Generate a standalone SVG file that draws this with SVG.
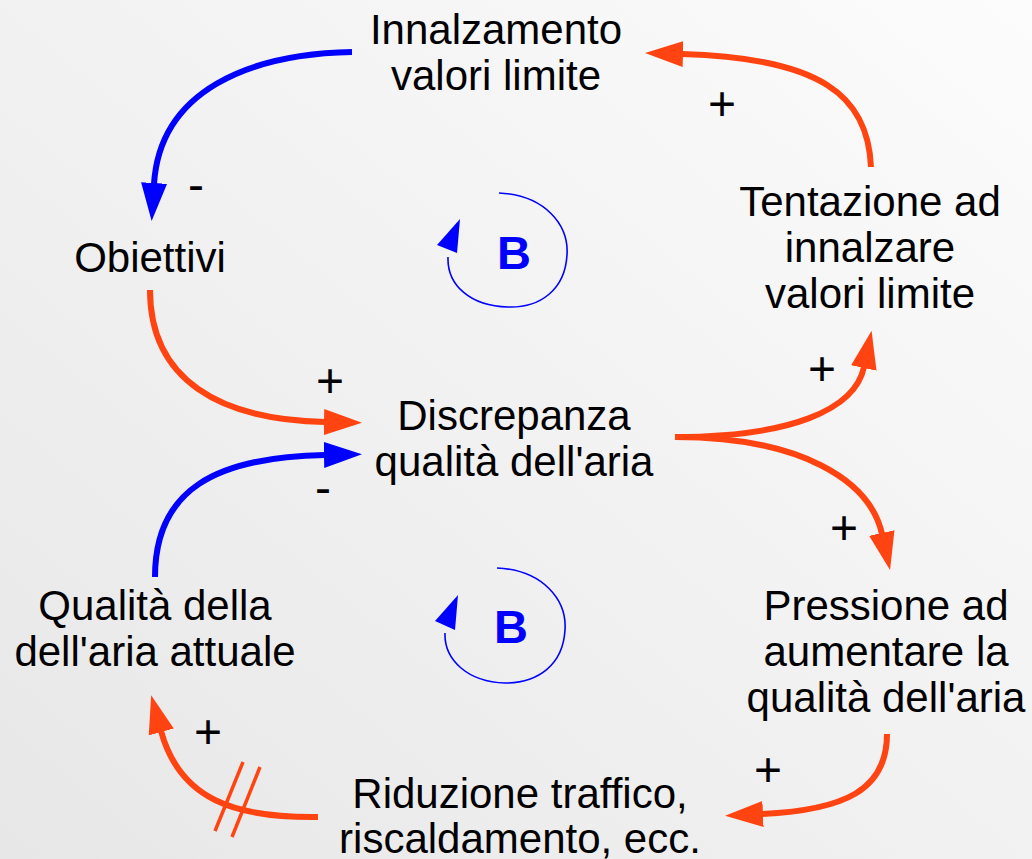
<svg xmlns="http://www.w3.org/2000/svg" width="1032" height="859" viewBox="0 0 1032 859">
<defs>
<linearGradient id="bg" x1="1" y1="0" x2="0" y2="1">
<stop offset="0" stop-color="#fcfcfc"/>
<stop offset="1" stop-color="#e7e7e7"/>
</linearGradient>
<marker id="ao" viewBox="0 0 38 26" refX="1" refY="13" markerWidth="38" markerHeight="26" markerUnits="userSpaceOnUse" orient="auto">
<path d="M0,0 L38,13 L0,26 Z" fill="#ff4412"/>
</marker>
<marker id="ab" viewBox="0 0 38 26" refX="1" refY="13" markerWidth="38" markerHeight="26" markerUnits="userSpaceOnUse" orient="auto">
<path d="M0,0 L38,13 L0,26 Z" fill="#0000ff"/>
</marker>
<style>
.t{font-family:"Liberation Sans",Arial,sans-serif;font-size:42px;fill:#000;text-anchor:middle}
.s{font-family:"Liberation Sans",Arial,sans-serif;font-size:48px;fill:#000;text-anchor:middle}
.b{font-family:"Liberation Sans",Arial,sans-serif;font-size:47px;font-weight:bold;fill:#0000ff;text-anchor:middle}
.o{fill:none;stroke:#ff4412;stroke-width:6}
.bl{fill:none;stroke:#0000ff;stroke-width:6}
.loop{fill:none;stroke:#0000ff;stroke-width:1.6}
.delay{stroke:#ff4412;stroke-width:3.5}
</style>
</defs>
<rect width="1032" height="859" fill="url(#bg)"/>

<g id="connectors">
<path class="bl" d="M352,52 C250,54 160,90 154,184" marker-end="url(#ab)"/>
<path class="o" d="M871,167 C868,95 820,58 682,54" marker-end="url(#ao)"/>
<path class="o" d="M150,290 C150,380 220,420 325,422" marker-end="url(#ao)"/>
<path class="bl" d="M155,577 C155,490 215,457 325,455" marker-end="url(#ab)"/>
<path class="o" d="M675,437 C790,437 855,410 864,367" marker-end="url(#ao)"/>
<path class="o" d="M675,437 C800,437 870,480 882,534" marker-end="url(#ao)"/>
<path class="o" d="M887,734 C887,790 845,810 762,814" marker-end="url(#ao)"/>
<path class="o" d="M318,817 C235,818 180,800 161,731" marker-end="url(#ao)"/>
<line class="delay" x1="243" y1="762" x2="215" y2="831"/>
<line class="delay" x1="260" y1="767" x2="232" y2="837"/>
<text class="s" x="722" y="120">+</text>
<text class="s" x="196" y="201">-</text>
<text class="s" x="330" y="397">+</text>
<text class="s" x="323" y="504">-</text>
<text class="s" x="822" y="385">+</text>
<text class="s" x="844" y="544">+</text>
<text class="s" x="208" y="748">+</text>
<text class="s" x="768" y="786">+</text>
</g>

<g id="loop-top">
<path class="loop" d="M499,193 C545,195 569,225 567,255 C565,290 540,308 508,307 C470,306 447,285 448,257"/>
<path d="M460,219 L437,245 L457,253 Z" fill="#0000ff"/>
<text class="b" x="514" y="269">B</text>
</g>
<g id="loop-bottom">
<path class="loop" d="M497,568 C543,570 567,600 565,630 C563,665 538,683 505,683 C468,682 444,660 445,633"/>
<path d="M458,595 L435,621 L455,630 Z" fill="#0000ff"/>
<text class="b" x="511" y="643">B</text>
</g>

<g id="n-innalzamento">
<text class="t" x="496" y="44">Innalzamento</text>
<text class="t" x="496" y="90">valori limite</text>
</g>
<g id="n-obiettivi">
<text class="t" x="150" y="272">Obiettivi</text>
</g>
<g id="n-tentazione">
<text class="t" x="870" y="216">Tentazione ad</text>
<text class="t" x="870" y="262">innalzare</text>
<text class="t" x="870" y="308">valori limite</text>
</g>
<g id="n-discrepanza">
<text class="t" x="514" y="430">Discrepanza</text>
<text class="t" x="514" y="476">qualità dell'aria</text>
</g>
<g id="n-qualita">
<text class="t" x="155" y="620">Qualità della</text>
<text class="t" x="155" y="666">dell'aria attuale</text>
</g>
<g id="n-pressione">
<text class="t" x="886" y="620">Pressione ad</text>
<text class="t" x="886" y="666">aumentare la</text>
<text class="t" x="886" y="712">qualità dell'aria</text>
</g>
<g id="n-riduzione">
<text class="t" x="520" y="808">Riduzione traffico,</text>
<text class="t" x="520" y="853">riscaldamento, ecc.</text>
</g>
</svg>
